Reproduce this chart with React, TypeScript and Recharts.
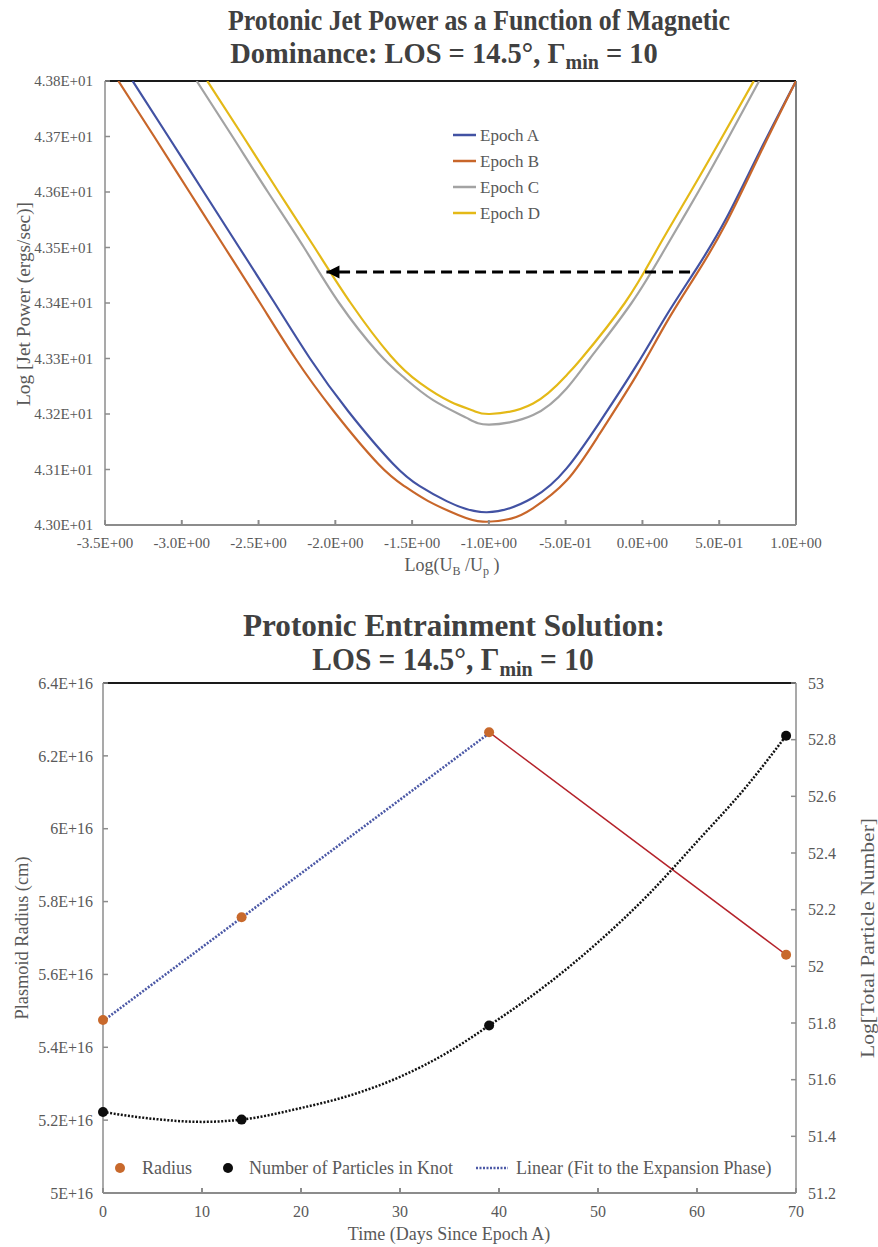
import React from 'react';
import { LineChart, ComposedChart, Line, Scatter, XAxis, YAxis, ReferenceLine } from 'recharts';

const FONT = '"Liberation Serif", "Times New Roman", serif';
const INK = '#595959';
const TITLE_INK = '#404040';
const AXIS = '#8c8c8c';

// ---- Jet power vs magnetic dominance ----
const epochAX = [-3.32, -3.088, -2.857, -2.626, -2.395, -2.165, -1.916, -1.623, -1.45, -1.275, -1.013, -0.714, -0.494, -0.277, -0.038, 0.157, 0.352, 0.547, 0.764, 1.0];
const epochAY = [43.8, 43.7, 43.6, 43.5, 43.4, 43.3, 43.205, 43.11, 43.07, 43.043, 43.023, 43.049, 43.102, 43.186, 43.288, 43.378, 43.462, 43.553, 43.673, 43.8];

const epochBX = [-3.413, -3.18, -2.95, -2.72, -2.49, -2.26, -2.01, -1.72, -1.55, -1.395, -1.2, -1.04, -0.85, -0.714, -0.494, -0.277, -0.038, 0.157, 0.352, 0.547, 0.764, 1.0];
const epochBY = [43.8, 43.7, 43.6, 43.5, 43.4, 43.3, 43.205, 43.11, 43.07, 43.043, 43.018, 43.006, 43.012, 43.03, 43.08, 43.165, 43.27, 43.365, 43.452, 43.545, 43.668, 43.8];

const epochCX = [-2.903, -2.67, -2.439, -2.204, -1.975, -1.72, -1.55, -1.363, -1.145, -0.998, -0.712, -0.494, -0.342, -0.071, 0.152, 0.363, 0.564, 0.76];
const epochCY = [43.8, 43.7, 43.6, 43.5, 43.4, 43.31, 43.265, 43.225, 43.193, 43.181, 43.198, 43.246, 43.3, 43.4, 43.5, 43.6, 43.7, 43.8];

const epochDX = [-2.834, -2.6, -2.369, -2.135, -1.9, -1.64, -1.45, -1.25, -1.1, -0.994, -0.712, -0.494, -0.397, -0.115, 0.102, 0.313, 0.521, 0.725];
const epochDY = [43.8, 43.7, 43.6, 43.5, 43.4, 43.305, 43.256, 43.222, 43.206, 43.2, 43.219, 43.27, 43.3, 43.4, 43.5, 43.6, 43.7, 43.8];

const arrowX = [0.31, -2.058];
const arrowY = [43.456, 43.456];

const powerXTicks = [-3.5, -3.0, -2.5, -2.0, -1.5, -1.0, -0.5, 0.0, 0.5, 1.0];
const powerYTicks = [43.0, 43.1, 43.2, 43.3, 43.4, 43.5, 43.6, 43.7, 43.8];

const epochs = [
  { name: 'Epoch A', xs: epochAX, ys: epochAY, color: '#4252a3' },
  { name: 'Epoch B', xs: epochBX, ys: epochBY, color: '#c8662a' },
  { name: 'Epoch C', xs: epochCX, ys: epochCY, color: '#a3a3a3' },
  { name: 'Epoch D', xs: epochDX, ys: epochDY, color: '#e4b917' },
];

// ---- Entrainment solution ----
const days = [0, 14, 39, 69];
const radius = [5.475e16, 5.757e16, 6.265e16, 5.654e16];
const particles = [51.486, 51.459, 51.791, 52.814];
const fitDays = [0, 39];
const fitRadius = [5.472e16, 6.262e16];
const trendDays = [0, 5, 10, 14, 20, 25, 30, 35, 39, 45, 50, 55, 60, 65, 69];
const trendParticles = [51.486, 51.462, 51.451, 51.459, 51.5, 51.545, 51.61, 51.7, 51.791, 51.94, 52.085, 52.25, 52.44, 52.635, 52.814];

const dayTicks = [0, 10, 20, 30, 40, 50, 60, 70];
const radiusTicks = [5e16, 5.2e16, 5.4e16, 5.6e16, 5.8e16, 6e16, 6.2e16, 6.4e16];
const numberTicks = [51.2, 51.4, 51.6, 51.8, 52, 52.2, 52.4, 52.6, 52.8, 53];

const pts = (xs: number[], ys: number[]) => xs.map((x, i) => ({ x, y: ys[i] }));

// Excel-style scientific labels, e.g. 4.38E+01, -5.0E-01
const sci = (v: number, digits: number) => {
  const [m, e] = v.toExponential(digits).split('e');
  const n = Number(e);
  return `${m}E${n < 0 ? '-' : '+'}${String(Math.abs(n)).padStart(2, '0')}`;
};
const radiusLabel = (v: number) => `${parseFloat((v / 1e16).toFixed(1))}E+16`;
const numberLabel = (v: number) => `${parseFloat(v.toFixed(1))}`;

const tickStyle = { fontFamily: FONT, fontSize: 15, fill: INK };

const ArrowHead = (props: any) => {
  const { cx, cy, index } = props;
  if (index !== 1) return <g key={`ah-${index}`} />;
  return <polygon key="ah" points={`${cx},${cy} ${cx + 13},${cy - 6.5} ${cx + 13},${cy + 6.5}`} fill="#000" />;
};

const Dot = (color: string) => (props: any) => (
  <circle cx={props.cx} cy={props.cy} r={5} fill={color} />
);

function PowerChart() {
  return (
    <LineChart width={878} height={600} margin={{ top: 81, right: 82, bottom: 35, left: 25 }}>
      <XAxis
        type="number"
        dataKey="x"
        domain={[-3.5, 1.0]}
        ticks={powerXTicks}
        tickFormatter={(v) => sci(v, 1)}
        tick={tickStyle}
        tickSize={-5}
        tickMargin={17}
        height={40}
        stroke={AXIS}
        strokeWidth={2}
        allowDataOverflow
      />
      <YAxis
        type="number"
        domain={[43.0, 43.8]}
        ticks={powerYTicks}
        tickFormatter={(v) => sci(v, 2)}
        tick={tickStyle}
        tickSize={-5}
        tickMargin={17}
        width={80}
        stroke={AXIS}
        strokeWidth={1.5}
        allowDataOverflow
      />
      <ReferenceLine y={43.8} stroke="#1a1a1a" strokeWidth={2} />
      <ReferenceLine x={1.0} stroke="#555" strokeWidth={1.5} />
      {epochs.map((ep) => (
        <Line
          key={ep.name}
          data={pts(ep.xs, ep.ys)}
          dataKey="y"
          type="natural"
          stroke={ep.color}
          strokeWidth={2.2}
          dot={false}
          isAnimationActive={false}
        />
      ))}
      <Line
        data={pts(arrowX, arrowY)}
        dataKey="y"
        type="linear"
        stroke="#000"
        strokeWidth={3}
        strokeDasharray="11 6"
        dot={ArrowHead}
        isAnimationActive={false}
      />
    </LineChart>
  );
}

function EntrainmentChart() {
  return (
    <ComposedChart width={878} height={647} margin={{ top: 83, right: 22, bottom: 24, left: 23 }}>
      <XAxis
        type="number"
        dataKey="x"
        domain={[0, 70]}
        ticks={dayTicks}
        tick={{ ...tickStyle, fontSize: 16 }}
        tickSize={-5}
        tickMargin={18}
        height={30}
        stroke={AXIS}
        strokeWidth={2}
      />
      <YAxis
        yAxisId="left"
        type="number"
        domain={[5e16, 6.4e16]}
        ticks={radiusTicks}
        tickFormatter={radiusLabel}
        tick={{ ...tickStyle, fontSize: 16 }}
        tickSize={-5}
        tickMargin={15}
        width={80}
        stroke={AXIS}
        strokeWidth={1.5}
      />
      <YAxis
        yAxisId="right"
        orientation="right"
        type="number"
        domain={[51.2, 53]}
        ticks={numberTicks}
        tickFormatter={numberLabel}
        tick={{ ...tickStyle, fontSize: 16 }}
        tickSize={-5}
        tickMargin={17}
        width={60}
        stroke={AXIS}
        strokeWidth={1.5}
      />
      <ReferenceLine yAxisId="left" y={6.4e16} stroke="#1a1a1a" strokeWidth={2} />
      <Line
        yAxisId="left"
        data={pts(fitDays, fitRadius)}
        dataKey="y"
        type="linear"
        stroke="#4b58a6"
        strokeWidth={2.6}
        strokeDasharray="2 1.5"
        dot={false}
        isAnimationActive={false}
      />
      <Line
        yAxisId="left"
        data={pts(days.slice(2), radius.slice(2))}
        dataKey="y"
        type="linear"
        stroke="#b5232b"
        strokeWidth={1.5}
        dot={false}
        isAnimationActive={false}
      />
      <Line
        yAxisId="right"
        data={pts(trendDays, trendParticles)}
        dataKey="y"
        type="monotone"
        stroke="#111"
        strokeWidth={2.5}
        strokeDasharray="2 1.6"
        dot={false}
        isAnimationActive={false}
      />
      <Scatter
        yAxisId="left"
        data={pts(days, radius)}
        dataKey="y"
        shape={Dot('#c8692c')}
        isAnimationActive={false}
      />
      <Scatter
        yAxisId="right"
        data={pts(days, particles)}
        dataKey="y"
        shape={Dot('#0d0d0d')}
        isAnimationActive={false}
      />
    </ComposedChart>
  );
}

function Overlay() {
  const label = { fontFamily: FONT, fill: INK } as const;
  const title = { fontFamily: FONT, fill: TITLE_INK, fontWeight: 700 } as const;
  return (
    <svg width={878} height={1247} style={{ position: 'absolute', left: 0, top: 0, pointerEvents: 'none' }}>
      {/* chart titles */}
      <text x={479} y={30} textAnchor="middle" fontSize={30} textLength={502} lengthAdjust="spacingAndGlyphs" {...title}>
        Protonic Jet Power as a Function of Magnetic
      </text>
      <g transform="translate(444,63) scale(0.95,1)">
        <text x={0} y={0} textAnchor="middle" fontSize={30} {...title}>
          Dominance: LOS = 14.5°, Γ<tspan fontSize={21} dy={6}>min</tspan><tspan dy={-6}> = 10</tspan>
        </text>
      </g>
      <text x={454} y={636} textAnchor="middle" fontSize={31} textLength={422} lengthAdjust="spacingAndGlyphs" {...title}>
        Protonic Entrainment Solution:
      </text>
      <g transform="translate(453,670) scale(0.95,1)">
        <text x={0} y={0} textAnchor="middle" fontSize={31} {...title}>
          LOS = 14.5°, Γ<tspan fontSize={21} dy={6}>min</tspan><tspan dy={-6}> = 10</tspan>
        </text>
      </g>

      {/* axis titles */}
      <text transform="translate(30,304) rotate(-90)" textAnchor="middle" fontSize={18} textLength={204} lengthAdjust="spacingAndGlyphs" {...label}>
        Log [Jet Power (ergs/sec)]
      </text>
      <text x={452} y={571} textAnchor="middle" fontSize={18} {...label}>
        Log(U<tspan fontSize={12} dy={4}>B</tspan><tspan dy={-4}> /U</tspan><tspan fontSize={12} dy={4}>p</tspan><tspan dy={-4}> )</tspan>
      </text>
      <text transform="translate(28,938) rotate(-90)" textAnchor="middle" fontSize={18} textLength={163} lengthAdjust="spacingAndGlyphs" {...label}>
        Plasmoid Radius (cm)
      </text>
      <text transform="translate(874,938) rotate(-90)" textAnchor="middle" fontSize={18} textLength={240} lengthAdjust="spacingAndGlyphs" {...label}>
        Log[Total Particle Number]
      </text>
      <text x={449} y={1240} textAnchor="middle" fontSize={18} {...label}>
        Time (Days Since Epoch A)
      </text>

      {/* epoch legend */}
      {epochs.map((ep, i) => (
        <g key={ep.name}>
          <line x1={453} x2={476} y1={135 + i * 26} y2={135 + i * 26} stroke={ep.color} strokeWidth={2.5} />
          <text x={480} y={140.5 + i * 26} fontSize={17} {...label}>{ep.name}</text>
        </g>
      ))}

      {/* entrainment legend */}
      <circle cx={120} cy={1168} r={5} fill="#c8692c" />
      <text x={142} y={1174} fontSize={18} {...label}>Radius</text>
      <circle cx={228} cy={1168} r={5} fill="#0d0d0d" />
      <text x={249} y={1174} fontSize={18} {...label}>Number of Particles in Knot</text>
      <line x1={476} x2={508} y1={1168} y2={1168} stroke="#4b58a6" strokeWidth={2.6} strokeDasharray="2 1.5" />
      <text x={516} y={1174} fontSize={18} {...label}>Linear (Fit to the Expansion Phase)</text>
    </svg>
  );
}

export default function App() {
  return (
    <div style={{ position: 'absolute', left: 0, top: 0, width: 878, height: 1247, background: '#fff' }}>
      <div style={{ position: 'absolute', left: 0, top: 0 }}>
        <PowerChart />
      </div>
      <div style={{ position: 'absolute', left: 0, top: 600 }}>
        <EntrainmentChart />
      </div>
      <Overlay />
    </div>
  );
}
